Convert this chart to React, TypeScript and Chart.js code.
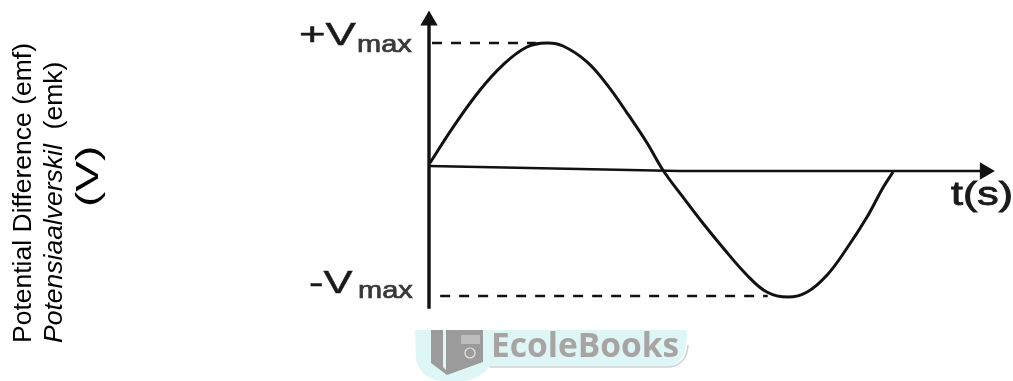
import React, { useEffect, useRef } from "react";
import { Chart, registerables } from "chart.js";

Chart.register(...registerables);

// Time as a fraction of one full cycle, voltage as a fraction of Vmax
const cycleTime = [0.002, 0.052, 0.11, 0.159, 0.211, 0.254, 0.289, 0.341, 0.384, 0.427, 0.47, 0.504, 0.547, 0.59, 0.634, 0.685, 0.728, 0.774, 0.815, 0.858, 0.901, 0.944, 0.978, 1];
const voltage = [0.056, 0.341, 0.635, 0.833, 0.976, 1.008, 0.984, 0.857, 0.675, 0.452, 0.214, 0, -0.214, -0.421, -0.619, -0.833, -0.968, -1.008, -0.968, -0.833, -0.619, -0.373, -0.143, -0.016];
const timeAxisX = [0, 0.54, 1.198];
const timeAxisY = [0.032, -0.008, -0.008];
const voltAxisX = [0, 0];
const voltAxisY = [-1.102, 1.187];
const plusDashX = [0.0065, 0.23];
const plusDashY = [1.008, 1.008];
const minusDashX = [0.024, 0.73];
const minusDashY = [-1, -1];
const plusLabel = "+V";
const minusLabel = "-V";
const subLabel = "max";
const timeLabel = "t(s)";
const sideLabel1 = "Potential Difference (emf)";
const sideLabel2a = "Potensiaalverskil";
const sideLabel2b = "  (emk)";
const sideLabel3 = "(V)";
const brandLabel = "EcoleBooks";

const pts = (xs: number[], ys: number[]) => xs.map((x, i) => ({ x, y: ys[i] }));

const decor = {
  id: "decor",
  beforeDatasetsDraw(chart: any) {
    const c = chart.ctx;
    c.save();
    c.filter = "blur(0.5px)";
    // watermark
    c.fillStyle = "#dff6f6";
    c.beginPath();
    c.moveTo(415, 330);
    c.lineTo(416, 360);
    c.quadraticCurveTo(422, 381, 445, 381);
    c.lineTo(465, 381);
    c.quadraticCurveTo(482, 378, 490, 366);
    c.lineTo(670, 366);
    c.quadraticCurveTo(687, 364, 687, 330);
    c.closePath();
    c.fill();
    c.strokeStyle = "#c9d2d2";
    c.lineWidth = 1.5;
    c.beginPath();
    c.moveTo(490, 367);
    c.lineTo(670, 367);
    c.quadraticCurveTo(687, 364, 688, 345);
    c.stroke();
    // book
    c.fillStyle = "#9b9b9b";
    c.beginPath();
    c.moveTo(431, 330);
    c.lineTo(431, 363);
    c.lineTo(447, 375);
    c.lineTo(483, 362);
    c.lineTo(483, 330);
    c.closePath();
    c.fill();
    c.fillStyle = "#dff6f6";
    c.beginPath();
    c.moveTo(443, 330);
    c.lineTo(443, 367);
    c.lineTo(446, 370);
    c.lineTo(446, 330);
    c.closePath();
    c.fill();
    c.fillStyle = "#bdbdbd";
    c.fillRect(461, 335, 19, 9);
    c.strokeStyle = "#e5e5e5";
    c.lineWidth = 1.2;
    c.beginPath();
    c.arc(470, 353, 5, 0, Math.PI * 2);
    c.stroke();
    c.fillStyle = "#a9a4a4";
    c.font = "bold 33.5px 'Open Sans', sans-serif";
    c.textBaseline = "alphabetic";
    c.textAlign = "left";
    c.fillText(brandLabel, 491, 357);
    c.restore();

    // lines are soft in the original scan
    c.filter = "blur(0.6px)";
  },
  afterDatasetsDraw(chart: any) {
    const c = chart.ctx;
    c.filter = "blur(0.6px)";
    c.save();
    c.textBaseline = "alphabetic";
    c.textAlign = "left";
    const wide = (s: string, font: string, color: string, x: number, y: number, sx: number, stroke = 0) => {
      c.save();
      c.translate(x, y);
      c.scale(sx, 1);
      c.font = font;
      c.fillStyle = color;
      c.fillText(s, 0, 0);
      if (stroke) {
        c.strokeStyle = color;
        c.lineWidth = stroke;
        c.strokeText(s, 0, 0);
      }
      c.restore();
    };
    const big = "32px 'Liberation Sans', sans-serif";
    const sub = "23px 'Liberation Sans', sans-serif";
    wide(plusLabel, big, "#1a1a1a", 299, 45, 1.42, 0.5);
    wide(minusLabel, big, "#1a1a1a", 309, 293, 1.36, 0.5);
    wide(subLabel, sub, "#3a3a3a", 357, 52, 1.26, 0.7);
    wide(subLabel, sub, "#3a3a3a", 358, 298, 1.26, 0.7);
    wide(timeLabel, "33px 'Liberation Sans', sans-serif", "#1a1a1a", 951, 205, 1.3, 0.9);
    c.filter = "none";

    c.fillStyle = "#000";
    const side = (x: number, bottom: number, parts: [string, string][], stretch = 1) => {
      c.save();
      c.translate(x, bottom);
      c.rotate(-Math.PI / 2);
      c.scale(stretch, 1);
      let o = 0;
      for (const [font, s] of parts) {
        c.font = font;
        c.fillText(s, o, 0);
        o += c.measureText(s).width;
      }
      c.restore();
    };
    side(31, 343, [["26.5px 'Liberation Sans', sans-serif", sideLabel1]]);
    side(62, 343, [
      ["italic 26.5px 'Liberation Sans', sans-serif", sideLabel2a],
      ["26.5px 'Liberation Sans', sans-serif", sideLabel2b],
    ]);
    side(98, 207, [["32px 'Liberation Sans', sans-serif", sideLabel3]], 1.44);
    c.restore();
  },
};

export default function App() {
  const ref = useRef<HTMLCanvasElement>(null);
  useEffect(() => {
    document.body.style.margin = "0";
    document.body.style.background = "#fff";
    const line = (data: any[], extra: any = {}) => ({
      data,
      showLine: true,
      borderColor: "#111",
      borderWidth: 2.4,
      pointRadius: 0,
      tension: 0,
      ...extra,
    });
    const chart = new Chart(ref.current!, {
      type: "scatter",
      plugins: [decor],
      data: {
        datasets: [
          line(pts(cycleTime, voltage), { tension: 0.4, borderWidth: 3 }),
          line(pts(timeAxisX, timeAxisY), {
            borderWidth: 2.4,
            pointStyle: "triangle",
            pointRadius: [0, 0, 10],
            pointRotation: 90,
            pointBackgroundColor: "#111",
            pointBorderWidth: 0,
          }),
          line(pts(voltAxisX, voltAxisY), {
            borderWidth: 3.4,
            pointStyle: "triangle",
            pointRadius: [0, 10],
            pointBackgroundColor: "#111",
            pointBorderWidth: 0,
          }),
          line(pts(plusDashX, plusDashY), { borderDash: [10, 9], borderWidth: 2.6 }),
          line(pts(minusDashX, minusDashY), { borderDash: [10, 9], borderWidth: 2.6 }),
        ],
      },
      options: {
        responsive: false,
        animation: false,
        layout: { padding: 0, autoPadding: false },
        plugins: { legend: { display: false }, tooltip: { enabled: false }, title: { display: false } },
        scales: {
          x: { type: "linear", display: false, min: -0.9246, max: 1.2586 },
          y: { type: "linear", display: false, min: -1.6746, max: 1.3492 },
        },
      },
    } as any);
    return () => chart.destroy();
  }, []);
  return <canvas ref={ref} width={1013} height={381} style={{ display: "block" }} />;
}
